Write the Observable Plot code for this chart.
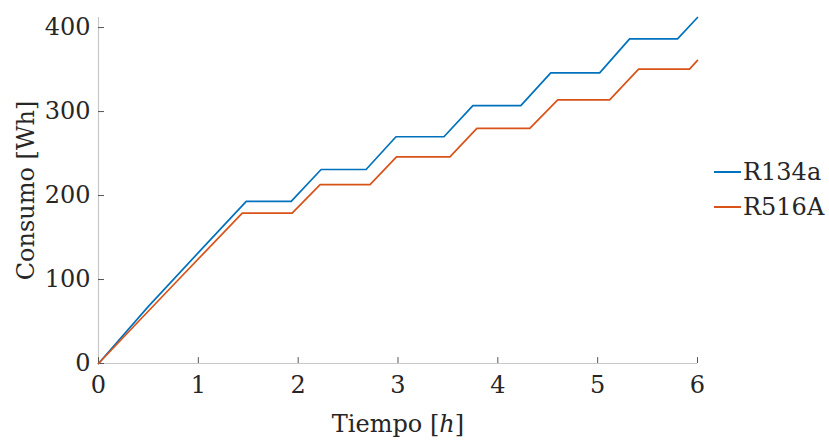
<!DOCTYPE html>
<html><head><meta charset="utf-8">
<script src="https://cdn.jsdelivr.net/npm/d3@7"></script>
<script src="https://cdn.jsdelivr.net/npm/@observablehq/plot@0.6"></script>
<style>
body{margin:0;background:#fff;}
#wrap{position:relative;width:829px;height:440px;font-family:"DejaVu Serif",serif;}
.leg{position:absolute;left:714px;font-size:24px;color:#262626;display:flex;align-items:center;line-height:1;}
.leg .sw{display:inline-block;width:27px;height:2px;margin-right:2px;}
</style></head><body><div id="wrap"></div>
<script>
const seriesNames = ["R134a", "R516A"];
const seriesColors = ["#0072BD", "#D95319"];
const r134aTime = [0, 0.5, 1.0, 1.48, 1.93, 2.23, 2.68, 2.98, 3.46, 3.75, 4.23, 4.53, 5.02, 5.32, 5.80, 6.0];
const r134aWh   = [0, 68, 132, 193, 193, 231, 231, 270, 270, 307, 307, 346, 346, 386.5, 386.5, 412];
const r516aTime = [0, 0.4, 0.85, 1.44, 1.94, 2.22, 2.72, 2.985, 3.52, 3.79, 4.32, 4.60, 5.12, 5.41, 5.92, 6.0];
const r516aWh   = [0, 50, 106, 179, 179, 213, 213, 246, 246, 280, 280, 314, 314, 350.5, 350.5, 361];
const xTicks = [0, 1, 2, 3, 4, 5, 6];
const yTicks = [0, 100, 200, 300, 400];

const data = [
  ...r134aTime.map((t, i) => ({t, wh: r134aWh[i], s: seriesNames[0]})),
  ...r516aTime.map((t, i) => ({t, wh: r516aWh[i], s: seriesNames[1]}))
];

const chart = Plot.plot({
  width: 829, height: 440,
  marginLeft: 98, marginRight: 132, marginTop: 17, marginBottom: 77,
  style: {fontFamily: "'DejaVu Serif', serif", fontSize: "24px", color: "#262626", background: "white"},
  x: {domain: [0, 6]},
  y: {domain: [0, 412]},
  color: {domain: seriesNames, range: seriesColors},
  marks: [
    Plot.ruleX([0], {stroke: "#c8c8c8", strokeWidth: 1.2}),
    Plot.ruleY([0], {stroke: "#c8c8c8", strokeWidth: 1.2}),
    Plot.ruleX(xTicks, {y1: 0, y2: 7, stroke: "#555"}),
    Plot.ruleY(yTicks, {x1: 0, x2: 0.06, stroke: "#555"}),
    Plot.axisX({ticks: xTicks, tickFormat: d3.format("d"), tickSize: 0, tickPadding: 12, label: "Tiempo [h]", labelAnchor: "center", labelArrow: "none", labelOffset: 68, fill: "#262626"}),
    Plot.axisY({ticks: yTicks, tickFormat: d3.format("d"), tickSize: 0, tickPadding: 8, label: "Consumo [Wh]", labelAnchor: "center", labelArrow: "none", labelOffset: 82, fill: "#262626"}),
    Plot.line(data, {x: "t", y: "wh", z: "s", stroke: "s", strokeWidth: 1.7, clip: false})
  ]
});
document.getElementById("wrap").appendChild(chart);

const lab = chart.querySelector('g[aria-label="x-axis label"] text');
if (lab) {
  lab.textContent = "Tiempo [";
  const ts = document.createElementNS("http://www.w3.org/2000/svg", "tspan");
  ts.setAttribute("font-style", "italic");
  ts.textContent = "h";
  lab.appendChild(ts);
  lab.appendChild(document.createTextNode("]"));
}

const legTops = [160, 195];
seriesNames.forEach((n, i) => {
  const d = document.createElement("div");
  d.className = "leg";
  d.style.top = legTops[i] + "px";
  const sw = document.createElement("span");
  sw.className = "sw";
  sw.style.background = seriesColors[i];
  d.appendChild(sw);
  d.appendChild(document.createTextNode(n));
  document.getElementById("wrap").appendChild(d);
});
</script></body></html>
